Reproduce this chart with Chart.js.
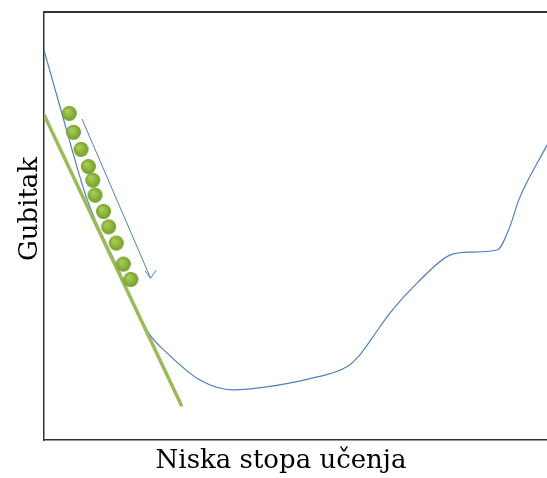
<!DOCTYPE html>
<html>
<head>
<meta charset="utf-8">
<script src="https://cdn.jsdelivr.net/npm/chart.js@4.4.0/dist/chart.umd.min.js"></script>
<style>
  html, body { margin: 0; padding: 0; background: #fff; overflow: hidden; }
  canvas { display: block; }
</style>
</head>
<body>
<canvas id="lossChart" width="547" height="478"></canvas>
<script>
// Krivulja gubitka (x = parametar, y = gubitak), jedinice 0..100
const curveX = [0, 3.2, 8.6, 14.7, 20.7, 24.5, 31.0, 37.6, 44.3, 53.5, 60.2, 62.8, 65.4, 68.8, 74.2, 80.7, 84.7, 90.1, 92.6, 94.4, 100];
const curveY = [91.1, 77.8, 56.1, 40.2, 25.2, 20.3, 14.0, 11.7, 12.4, 14.5, 17.1, 19.9, 24.1, 29.7, 36.7, 43.2, 43.9, 44.4, 49.8, 56.1, 68.9];

// Tangenta (zelena linija)
const tangentX = [0, 27.4];
const tangentY = [76.0, 7.9];

// Koraci (zelene kuglice)
const stepX = [5.03, 5.86, 7.36, 8.81, 9.68, 10.14, 11.83, 12.86, 14.37, 15.77, 17.26];
const stepY = [76.3, 71.9, 67.9, 63.9, 60.7, 57.2, 53.4, 49.8, 46.0, 41.1, 37.5];

// Strelica
const arrowX = [7.55, 21.2];
const arrowY = [75.0, 37.8];
const headX = [20.1, 21.2, 22.3];
const headY = [39.5, 37.8, 39.7];

const xTitle = 'Niska stopa učenja';
const yTitle = 'Gubitak';

function toPoints(xs, ys) {
    return xs.map((x, i) => ({ x: x, y: ys[i] }));
}

const blue = '#4f81bd';
const green = '#9bbb59';

// Kuglica sa sjenčanjem, koristi se kao pointStyle
function makeBall(r) {
    const size = Math.ceil(r * 2 + 2);
    const c = document.createElement('canvas');
    c.width = size;
    c.height = size;
    const g = c.getContext('2d');
    const cx = size / 2, cy = size / 2;
    const grad = g.createRadialGradient(cx - r * 0.3, cy - r * 0.35, r * 0.1, cx, cy, r);
    grad.addColorStop(0, '#a9cc5c');
    grad.addColorStop(0.6, '#8ab53a');
    grad.addColorStop(1, '#6f9a28');
    g.fillStyle = grad;
    g.beginPath();
    g.arc(cx, cy, r, 0, Math.PI * 2);
    g.fill();
    return c;
}
const ball = makeBall(7.5);

// Naslovi osi crtani ručno da budu na istom mjestu kao na slici
const axisLabels = {
    id: 'axisLabels',
    afterDraw(chart) {
        const c = chart.ctx;
        const area = chart.chartArea;
        c.save();
        c.fillStyle = '#000';
        c.font = '26px "DejaVu Serif"';
        c.textAlign = 'center';
        c.textBaseline = 'alphabetic';
        c.fillText(xTitle, area.left + 237, area.bottom + 28);
        c.translate(area.left - 7, area.top + 197);
        c.rotate(-Math.PI / 2);
        c.fillText(yTitle, 0, 0);
        c.restore();
    }
};

const ctx = document.getElementById('lossChart').getContext('2d');
const lossChart = new Chart(ctx, {
    type: 'line',
    data: {
        datasets: [
            {
                label: 'koraci',
                data: toPoints(stepX, stepY),
                showLine: false,
                pointStyle: ball,
                pointRadius: 7.5,
                pointHoverRadius: 7.5
            },
            {
                label: 'tangenta',
                data: toPoints(tangentX, tangentY),
                borderColor: green,
                borderWidth: 3.5,
                pointRadius: 0
            },
            {
                label: 'strelica',
                data: toPoints(arrowX, arrowY),
                borderColor: blue,
                borderWidth: 1,
                pointRadius: 0
            },
            {
                label: 'vrh',
                data: toPoints(headX, headY),
                borderColor: blue,
                borderWidth: 1,
                pointRadius: 0
            },
            {
                label: 'gubitak',
                data: toPoints(curveX, curveY),
                borderColor: blue,
                borderWidth: 1.2,
                pointRadius: 0,
                cubicInterpolationMode: 'monotone'
            }
        ]
    },
    options: {
        responsive: false,
        animation: false,
        layout: { autoPadding: false, padding: { left: 44, top: 12, right: 0, bottom: 38 } },
        plugins: {
            legend: { display: false },
            tooltip: { enabled: false }
        },
        scales: {
            x: {
                type: 'linear',
                min: 0, max: 100,
                ticks: { display: false },
                grid: { display: false },
                border: { display: true, color: '#333', width: 1.5 },
                afterFit(scale) { scale.height = 0; }
            },
            xTop: {
                type: 'linear',
                position: 'top',
                min: 0, max: 100,
                ticks: { display: false },
                grid: { display: false },
                border: { display: true, color: '#333', width: 2 },
                afterFit(scale) { scale.height = 0; }
            },
            y: {
                type: 'linear',
                min: 0, max: 100,
                ticks: { display: false },
                grid: { display: false },
                border: { display: true, color: '#333', width: 1.5 },
                afterFit(scale) { scale.width = 0; }
            }
        }
    },
    plugins: [axisLabels]
});
</script>
</body>
</html>
